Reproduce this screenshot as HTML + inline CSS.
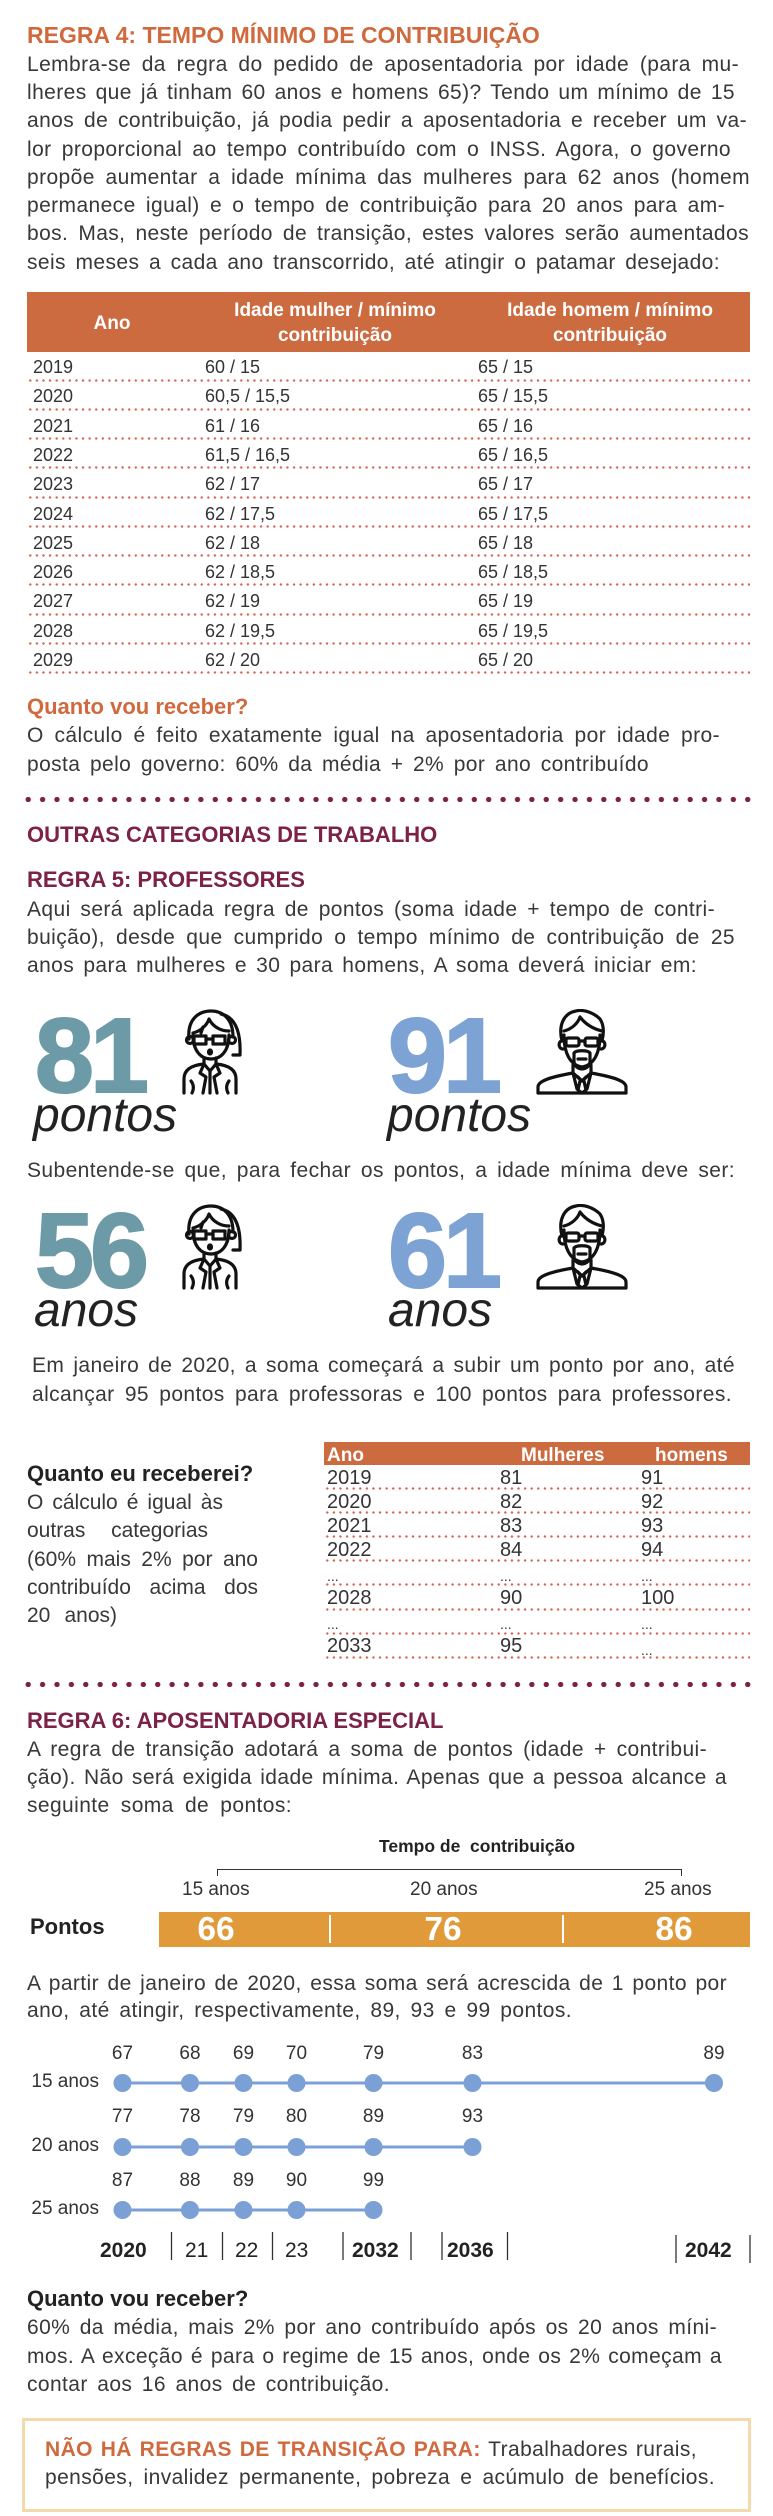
<!DOCTYPE html>
<html><head><meta charset="utf-8">
<style>
body{margin:0;background:#fff}
#p{position:relative;width:773px;height:2516px;overflow:hidden;font-family:"Liberation Sans",sans-serif;color:#2d2d2d;background:#fff}
.a{position:absolute;white-space:nowrap;line-height:1}
.l{position:absolute;font-size:21px;line-height:21px;text-align:justify;text-align-last:justify;color:#383838;letter-spacing:0.4px}
.l0{letter-spacing:0}
.h{position:absolute;white-space:nowrap;line-height:1;font-weight:bold;font-size:22px}
.or{color:#d06a3e}.mr{color:#7c2247}.dk{color:#222}
.r{position:absolute;left:0;font-size:18px;line-height:18px;white-space:nowrap;color:#333}
.r span,.s span{position:absolute}
.s{position:absolute;left:0;font-size:20px;line-height:20px;white-space:nowrap;color:#333}
.dl{position:absolute;height:3px;background:radial-gradient(circle,#d5604f 1px,transparent 1.4px) 0 0/6.6px 3px repeat-x}
.big{position:absolute;white-space:nowrap;line-height:1;font-weight:bold;font-size:106px;letter-spacing:-4px;-webkit-text-stroke:2px currentColor}
.it{position:absolute;white-space:nowrap;line-height:1;font-style:italic;font-size:48px;color:#222}
.sep{position:absolute;left:21px;width:735px;height:5px;background:radial-gradient(circle,#7c2247 2.4px,transparent 2.9px) 0 0/14.4px 5px repeat-x}
.c{position:absolute;width:60px;text-align:center;font-size:19px;line-height:1;color:#333}
.ax{position:absolute;font-size:21px;line-height:1;white-space:nowrap;color:#222}
</style></head><body><div id="p">

<div class="a or" style="top:24px;left:27px;font-size:23px;font-weight:bold">REGRA 4: TEMPO MÍNIMO DE CONTRIBUIÇÃO</div>
<div class="l" style="top:54px;left:27px;width:712px">Lembra-se da regra do pedido de aposentadoria por idade (para mu-</div>
<div class="l" style="top:82px;left:27px;width:708px">lheres que já tinham 60 anos e homens 65)? Tendo um mínimo de 15</div>
<div class="l" style="top:110px;left:27px;width:720px">anos de contribuição, já podia pedir a aposentadoria e receber um va-</div>
<div class="l" style="top:139px;left:27px;width:704px">lor proporcional ao tempo contribuído com o INSS. Agora, o governo</div>
<div class="l" style="top:167px;left:27px;width:723px">propõe aumentar a idade mínima das mulheres para 62 anos (homem</div>
<div class="l" style="top:195px;left:27px;width:698px">permanece igual) e o tempo de contribuição para 20 anos para am-</div>
<div class="l" style="top:223px;left:27px;width:722px">bos. Mas, neste período de transição, estes valores serão aumentados</div>
<div class="l" style="top:252px;left:27px;width:693px">seis meses a cada ano transcorrido, até atingir o patamar desejado:</div>

<div style="position:absolute;left:27px;top:292px;width:723px;height:60px;background:#cc6a40"></div>
<div class="a" style="left:52px;width:120px;text-align:center;top:314px;font-size:19px;font-weight:bold;color:#fff">Ano</div>
<div class="a" style="left:205px;width:260px;text-align:center;top:301px;font-size:19px;font-weight:bold;color:#fff">Idade mulher / mínimo</div>
<div class="a" style="left:205px;width:260px;text-align:center;top:326px;font-size:19px;font-weight:bold;color:#fff">contribuição</div>
<div class="a" style="left:480px;width:260px;text-align:center;top:301px;font-size:19px;font-weight:bold;color:#fff">Idade homem / mínimo</div>
<div class="a" style="left:480px;width:260px;text-align:center;top:326px;font-size:19px;font-weight:bold;color:#fff">contribuição</div>

<div class="r" style="top:358.1px"><span style="left:33px">2019</span><span style="left:205px">60 / 15</span><span style="left:478px">65 / 15</span></div>
<div class="r" style="top:387.4px"><span style="left:33px">2020</span><span style="left:205px">60,5 / 15,5</span><span style="left:478px">65 / 15,5</span></div>
<div class="r" style="top:416.6px"><span style="left:33px">2021</span><span style="left:205px">61 / 16</span><span style="left:478px">65 / 16</span></div>
<div class="r" style="top:445.9px"><span style="left:33px">2022</span><span style="left:205px">61,5 / 16,5</span><span style="left:478px">65 / 16,5</span></div>
<div class="r" style="top:475.2px"><span style="left:33px">2023</span><span style="left:205px">62 / 17</span><span style="left:478px">65 / 17</span></div>
<div class="r" style="top:504.5px"><span style="left:33px">2024</span><span style="left:205px">62 / 17,5</span><span style="left:478px">65 / 17,5</span></div>
<div class="r" style="top:533.7px"><span style="left:33px">2025</span><span style="left:205px">62 / 18</span><span style="left:478px">65 / 18</span></div>
<div class="r" style="top:563px"><span style="left:33px">2026</span><span style="left:205px">62 / 18,5</span><span style="left:478px">65 / 18,5</span></div>
<div class="r" style="top:592.3px"><span style="left:33px">2027</span><span style="left:205px">62 / 19</span><span style="left:478px">65 / 19</span></div>
<div class="r" style="top:621.5px"><span style="left:33px">2028</span><span style="left:205px">62 / 19,5</span><span style="left:478px">65 / 19,5</span></div>
<div class="r" style="top:650.8px"><span style="left:33px">2029</span><span style="left:205px">62 / 20</span><span style="left:478px">65 / 20</span></div>

<div class="dl" style="left:27px;width:723px;top:378.5px"></div>
<div class="dl" style="left:27px;width:723px;top:407.8px"></div>
<div class="dl" style="left:27px;width:723px;top:437px"></div>
<div class="dl" style="left:27px;width:723px;top:466.3px"></div>
<div class="dl" style="left:27px;width:723px;top:495.6px"></div>
<div class="dl" style="left:27px;width:723px;top:524.9px"></div>
<div class="dl" style="left:27px;width:723px;top:554.1px"></div>
<div class="dl" style="left:27px;width:723px;top:583.4px"></div>
<div class="dl" style="left:27px;width:723px;top:612.7px"></div>
<div class="dl" style="left:27px;width:723px;top:641.9px"></div>
<div class="dl" style="left:27px;width:723px;top:671.2px"></div>

<div class="h or" style="top:696.4px;left:27px">Quanto vou receber?</div>
<div class="l" style="top:725.2px;left:27px;width:693px">O cálculo é feito exatamente igual na aposentadoria por idade pro-</div>
<div class="l" style="top:754.2px;left:27px;width:622px">posta pelo governo: 60% da média + 2% por ano contribuído</div>

<div class="sep" style="top:796.5px"></div>

<div class="h mr" style="top:824.4px;left:27px">OUTRAS CATEGORIAS DE TRABALHO</div>
<div class="h mr" style="top:869.4px;left:27px">REGRA 5: PROFESSORES</div>
<div class="l" style="top:899.2px;left:27px;width:688px">Aqui será aplicada regra de pontos (soma idade + tempo de contri-</div>
<div class="l" style="top:927.2px;left:27px;width:708px">buição), desde que cumprido o tempo mínimo de contribuição de 25</div>
<div class="l" style="top:955.2px;left:27px;width:670px">anos para mulheres e 30 para homens, A soma deverá iniciar em:</div>

<div class="big" style="left:35px;top:1003.3px;color:#6c9ba7">81</div>
<div class="big" style="left:388px;top:1003.3px;color:#7da3d5">91</div>
<div class="it" style="left:33px;top:1092.4px">pontos</div>
<div class="it" style="left:387px;top:1092.4px">pontos</div>

<svg style="position:absolute;left:181px;top:1009px" width="66" height="86" viewBox="0 0 66 86" fill="none" stroke="#111" stroke-width="3.2" stroke-linecap="round" stroke-linejoin="round">
<path d="M8,30 C6,10 18,2 30,2 C42,2 52,10 52,28"/>
<path d="M40,5 C54,8 60,22 59,46 L52,46"/>
<path d="M12,26 C12,42 20,50 30,50 C40,50 48,42 48,26"/>
<path d="M12,24 C20,22 26,16 28,10 C32,18 40,22 48,22"/>
<path d="M22,18 L20,24"/>
<circle cx="9" cy="31" r="3.5"/><circle cx="51" cy="31" r="3.5"/>
<rect x="13" y="27" width="12" height="8"/><rect x="32" y="27" width="12" height="8"/>
<path d="M25,30 L32,30"/>
<ellipse cx="29" cy="43" rx="1.5" ry="2"/>
<path d="M23,49 L23,55 M35,49 L35,55"/>
<path d="M3,84 L3,70 C3,60 12,56 23,55 L29,62 L35,55 C46,56 55,60 55,70 L55,84"/>
<path d="M23,55 L19,64 L25,68 L22,84 M35,55 L39,64 L33,68 L36,84"/>
<path d="M10,72 C13,76 13,80 11,84 M48,72 C45,76 45,80 47,84 M29,62 L29,84"/>
</svg>

<svg style="position:absolute;left:536px;top:1009px" width="96" height="86" viewBox="0 0 96 86" fill="none" stroke="#111" stroke-width="3.2" stroke-linecap="round" stroke-linejoin="round">
<path d="M26,32 C22,16 28,4 40,2 C48,0 58,4 64,10 C68,16 68,24 66,32"/>
<path d="M28,22 C36,20 42,14 44,8 M44,8 C50,16 58,20 66,22"/>
<path d="M28,26 C28,44 34,56 46,58 C58,56 64,44 64,26"/>
<path d="M26,32 C22,32 22,40 27,40 M66,32 C70,32 70,40 65,40"/>
<rect x="30" y="29" width="13" height="8" rx="2"/><rect x="49" y="29" width="13" height="8" rx="2"/>
<path d="M43,32 L49,32"/>
<path d="M38,44 C40,41 52,41 54,44 L54,52 C54,57 50,60 46,60 C42,60 38,57 38,52 Z"/>
<path d="M42,50 L50,50"/>
<path d="M37,56 L37,64 M55,56 L55,64"/>
<path d="M2,84 L2,78 C2,72 14,68 37,64 L46,72 L55,64 C78,68 90,72 90,78 L90,84 Z"/>
<path d="M42,68 L46,72 L50,68 M44,72 L42,81 L46,84 L50,81 L48,72"/>
<path d="M37,64 L41,80 M55,64 L51,80"/>
</svg>

<div class="l" style="top:1160.2px;left:27px;width:708px">Subentende-se que, para fechar os pontos, a idade mínima deve ser:</div>

<div class="big" style="left:35px;top:1198.3px;color:#6c9ba7">56</div>
<div class="big" style="left:388px;top:1198.3px;color:#7da3d5">61</div>
<div class="it" style="left:34px;top:1287.4px">anos</div>
<div class="it" style="left:388px;top:1287.4px">anos</div>

<svg style="position:absolute;left:181px;top:1204px" width="66" height="86" viewBox="0 0 66 86" fill="none" stroke="#111" stroke-width="3.2" stroke-linecap="round" stroke-linejoin="round">
<path d="M8,30 C6,10 18,2 30,2 C42,2 52,10 52,28"/>
<path d="M40,5 C54,8 60,22 59,46 L52,46"/>
<path d="M12,26 C12,42 20,50 30,50 C40,50 48,42 48,26"/>
<path d="M12,24 C20,22 26,16 28,10 C32,18 40,22 48,22"/>
<path d="M22,18 L20,24"/>
<circle cx="9" cy="31" r="3.5"/><circle cx="51" cy="31" r="3.5"/>
<rect x="13" y="27" width="12" height="8"/><rect x="32" y="27" width="12" height="8"/>
<path d="M25,30 L32,30"/>
<ellipse cx="29" cy="43" rx="1.5" ry="2"/>
<path d="M23,49 L23,55 M35,49 L35,55"/>
<path d="M3,84 L3,70 C3,60 12,56 23,55 L29,62 L35,55 C46,56 55,60 55,70 L55,84"/>
<path d="M23,55 L19,64 L25,68 L22,84 M35,55 L39,64 L33,68 L36,84"/>
<path d="M10,72 C13,76 13,80 11,84 M48,72 C45,76 45,80 47,84 M29,62 L29,84"/>
</svg>

<svg style="position:absolute;left:536px;top:1204px" width="96" height="86" viewBox="0 0 96 86" fill="none" stroke="#111" stroke-width="3.2" stroke-linecap="round" stroke-linejoin="round">
<path d="M26,32 C22,16 28,4 40,2 C48,0 58,4 64,10 C68,16 68,24 66,32"/>
<path d="M28,22 C36,20 42,14 44,8 M44,8 C50,16 58,20 66,22"/>
<path d="M28,26 C28,44 34,56 46,58 C58,56 64,44 64,26"/>
<path d="M26,32 C22,32 22,40 27,40 M66,32 C70,32 70,40 65,40"/>
<rect x="30" y="29" width="13" height="8" rx="2"/><rect x="49" y="29" width="13" height="8" rx="2"/>
<path d="M43,32 L49,32"/>
<path d="M38,44 C40,41 52,41 54,44 L54,52 C54,57 50,60 46,60 C42,60 38,57 38,52 Z"/>
<path d="M42,50 L50,50"/>
<path d="M37,56 L37,64 M55,56 L55,64"/>
<path d="M2,84 L2,78 C2,72 14,68 37,64 L46,72 L55,64 C78,68 90,72 90,78 L90,84 Z"/>
<path d="M42,68 L46,72 L50,68 M44,72 L42,81 L46,84 L50,81 L48,72"/>
<path d="M37,64 L41,80 M55,64 L51,80"/>
</svg>

<div class="l" style="top:1355.2px;left:32px;width:703px">Em janeiro de 2020, a soma começará a subir um ponto por ano, até</div>
<div class="l" style="top:1384.2px;left:32px;width:700px">alcançar 95 pontos para professoras e 100 pontos para professores.</div>

<div class="h dk" style="top:1463.4px;left:27px">Quanto eu receberei?</div>
<div class="l l0" style="top:1492.2px;left:27px;width:196px">O cálculo é igual às</div>
<div class="l l0" style="top:1520.2px;left:27px;width:181px">outras categorias</div>
<div class="l l0" style="top:1549.2px;left:27px;width:231px">(60% mais 2% por ano</div>
<div class="l l0" style="top:1577.2px;left:27px;width:231px">contribuído acima dos</div>
<div class="l l0" style="top:1605.2px;left:27px;width:90px">20 anos)</div>

<div style="position:absolute;left:324px;top:1442px;width:426px;height:23px;background:#cc6a40"></div>
<div class="a" style="left:327px;top:1445.6px;font-size:19px;font-weight:bold;color:#fff">Ano</div>
<div class="a" style="left:521px;top:1445.6px;font-size:19px;font-weight:bold;color:#fff">Mulheres</div>
<div class="a" style="left:655px;top:1445.6px;font-size:19px;font-weight:bold;color:#fff">homens</div>

<div class="s" style="top:1468.1px"><span style="left:327px">2019</span><span style="left:500px">81</span><span style="left:641px">91</span></div>
<div class="s" style="top:1492.1px"><span style="left:327px">2020</span><span style="left:500px">82</span><span style="left:641px">92</span></div>
<div class="s" style="top:1516.1px"><span style="left:327px">2021</span><span style="left:500px">83</span><span style="left:641px">93</span></div>
<div class="s" style="top:1540.1px"><span style="left:327px">2022</span><span style="left:500px">84</span><span style="left:641px">94</span></div>
<div class="s" style="top:1569px;font-size:14px;line-height:14px"><span style="left:327px">...</span><span style="left:500px">...</span><span style="left:641px">...</span></div>
<div class="s" style="top:1588.1px"><span style="left:327px">2028</span><span style="left:500px">90</span><span style="left:641px">100</span></div>
<div class="s" style="top:1617px;font-size:14px;line-height:14px"><span style="left:327px">...</span><span style="left:500px">...</span><span style="left:641px">...</span></div>
<div class="s" style="top:1636.1px"><span style="left:327px">2033</span><span style="left:500px">95</span></div>
<div class="s" style="top:1643px;font-size:14px;line-height:14px"><span style="left:641px">...</span></div>

<div class="dl" style="left:324px;width:426px;top:1487px"></div>
<div class="dl" style="left:324px;width:426px;top:1511.1px"></div>
<div class="dl" style="left:324px;width:426px;top:1535.2px"></div>
<div class="dl" style="left:324px;width:426px;top:1559.3px"></div>
<div class="dl" style="left:324px;width:426px;top:1583.4px"></div>
<div class="dl" style="left:324px;width:426px;top:1607.5px"></div>
<div class="dl" style="left:324px;width:426px;top:1631.6px"></div>
<div class="dl" style="left:324px;width:426px;top:1655.7px"></div>

<div class="sep" style="top:1681.5px"></div>

<div class="h mr" style="top:1710.4px;left:27px">REGRA 6: APOSENTADORIA ESPECIAL</div>
<div class="l" style="top:1739.2px;left:27px;width:680px">A regra de transição adotará a soma de pontos (idade + contribui-</div>
<div class="l" style="top:1767.2px;left:27px;width:700px">ção). Não será exigida idade mínima. Apenas que a pessoa alcance a</div>
<div class="l" style="top:1795.2px;left:27px;width:265px">seguinte soma de pontos:</div>

<div class="a" style="left:277px;width:400px;text-align:center;top:1838.2px;font-size:17.5px;font-weight:bold;color:#222">Tempo de&nbsp; contribuição</div>
<div style="position:absolute;left:217px;top:1869px;width:465px;height:7px;border:1.5px solid #333;border-bottom:none;box-sizing:border-box"></div>
<div class="a" style="left:182px;top:1879.9px;font-size:19px;color:#333">15 anos</div>
<div class="a" style="left:410px;top:1879.9px;font-size:19px;color:#333">20 anos</div>
<div class="a" style="left:644px;top:1879.9px;font-size:19px;color:#333">25 anos</div>

<div class="h dk" style="top:1916.4px;left:30px">Pontos</div>
<div style="position:absolute;left:159px;top:1912px;width:591px;height:35px;background:#e09a3a"></div>
<div style="position:absolute;left:329px;top:1915px;width:1.5px;height:28px;background:#fff"></div>
<div style="position:absolute;left:562px;top:1915px;width:1.5px;height:28px;background:#fff"></div>
<div class="a" style="left:116px;width:200px;text-align:center;top:1913.3px;font-size:33.5px;font-weight:bold;color:#fff">66</div>
<div class="a" style="left:343px;width:200px;text-align:center;top:1913.3px;font-size:33.5px;font-weight:bold;color:#fff">76</div>
<div class="a" style="left:574px;width:200px;text-align:center;top:1913.3px;font-size:33.5px;font-weight:bold;color:#fff">86</div>

<div class="l" style="top:1973.2px;left:27px;width:700px">A partir de janeiro de 2020, essa soma será acrescida de 1 ponto por</div>
<div class="l" style="top:2000.2px;left:27px;width:545px">ano, até atingir, respectivamente, 89, 93 e 99 pontos.</div>

<svg style="position:absolute;left:0;top:2060px" width="773" height="210" viewBox="0 0 773 210">
<g stroke="#7ba0d5" stroke-width="3"><line x1="122.5" y1="23" x2="714" y2="23"/><line x1="122.5" y1="87" x2="472.5" y2="87"/><line x1="122.5" y1="150" x2="373.5" y2="150"/></g>
<g fill="#7ba0d5">
<circle cx="122.5" cy="23" r="9"/><circle cx="190" cy="23" r="9"/><circle cx="243.5" cy="23" r="9"/><circle cx="296.5" cy="23" r="9"/><circle cx="373.5" cy="23" r="9"/><circle cx="472.5" cy="23" r="9"/><circle cx="714" cy="23" r="9"/>
<circle cx="122.5" cy="87" r="9"/><circle cx="190" cy="87" r="9"/><circle cx="243.5" cy="87" r="9"/><circle cx="296.5" cy="87" r="9"/><circle cx="373.5" cy="87" r="9"/><circle cx="472.5" cy="87" r="9"/>
<circle cx="122.5" cy="150" r="9"/><circle cx="190" cy="150" r="9"/><circle cx="243.5" cy="150" r="9"/><circle cx="296.5" cy="150" r="9"/><circle cx="373.5" cy="150" r="9"/>
</g>
<g stroke="#333" stroke-width="1.3">
<line x1="171.5" y1="172" x2="171.5" y2="200"/><line x1="222.5" y1="172" x2="222.5" y2="200"/><line x1="272.5" y1="172" x2="272.5" y2="200"/><line x1="343" y1="172" x2="343" y2="200"/><line x1="411" y1="172" x2="411" y2="200"/><line x1="442" y1="172" x2="442" y2="200"/><line x1="507.5" y1="172" x2="507.5" y2="200"/><line x1="676" y1="175" x2="676" y2="203"/><line x1="750" y1="175" x2="750" y2="203"/>
</g>
</svg>

<div class="c" style="left:92.5px;top:2043.9px">67</div><div class="c" style="left:160px;top:2043.9px">68</div><div class="c" style="left:213.5px;top:2043.9px">69</div><div class="c" style="left:266.5px;top:2043.9px">70</div><div class="c" style="left:343.5px;top:2043.9px">79</div><div class="c" style="left:442.5px;top:2043.9px">83</div><div class="c" style="left:684px;top:2043.9px">89</div>
<div class="c" style="left:92.5px;top:2106.9px">77</div><div class="c" style="left:160px;top:2106.9px">78</div><div class="c" style="left:213.5px;top:2106.9px">79</div><div class="c" style="left:266.5px;top:2106.9px">80</div><div class="c" style="left:343.5px;top:2106.9px">89</div><div class="c" style="left:442.5px;top:2106.9px">93</div>
<div class="c" style="left:92.5px;top:2170.9px">87</div><div class="c" style="left:160px;top:2170.9px">88</div><div class="c" style="left:213.5px;top:2170.9px">89</div><div class="c" style="left:266.5px;top:2170.9px">90</div><div class="c" style="left:343.5px;top:2170.9px">99</div>

<div class="a" style="left:0;width:99px;text-align:right;top:2071.9px;font-size:19px;color:#333">15 anos</div>
<div class="a" style="left:0;width:99px;text-align:right;top:2135.9px;font-size:19px;color:#333">20 anos</div>
<div class="a" style="left:0;width:99px;text-align:right;top:2198.9px;font-size:19px;color:#333">25 anos</div>

<div class="ax" style="left:100px;top:2240.2px;font-weight:bold">2020</div>
<div class="ax" style="left:185px;top:2240.2px">21</div>
<div class="ax" style="left:235px;top:2240.2px">22</div>
<div class="ax" style="left:285px;top:2240.2px">23</div>
<div class="ax" style="left:352px;top:2240.2px;font-weight:bold">2032</div>
<div class="ax" style="left:447px;top:2240.2px;font-weight:bold">2036</div>
<div class="ax" style="left:685px;top:2240.2px;font-weight:bold">2042</div>

<div class="h dk" style="top:2288.4px;left:27px">Quanto vou receber?</div>
<div class="l" style="top:2317.2px;left:27px;width:690px">60% da média, mais 2% por ano contribuído após os 20 anos míni-</div>
<div class="l" style="top:2346.2px;left:27px;width:695px">mos. A exceção é para o regime de 15 anos, onde os 2% começam a</div>
<div class="l" style="top:2374.2px;left:27px;width:363px">contar aos 16 anos de contribuição.</div>

<div style="position:absolute;left:22px;top:2418px;width:729px;height:94px;border:3px solid #f3d9ac;box-sizing:border-box"></div>
<div class="l" style="top:2439.2px;left:45px;width:652px"><b class="or">NÃO HÁ REGRAS DE TRANSIÇÃO PARA:</b> Trabalhadores rurais,</div>
<div class="l" style="top:2467.2px;left:45px;width:670px">pensões, invalidez permanente, pobreza e acúmulo de benefícios.</div>

</div></body></html>
